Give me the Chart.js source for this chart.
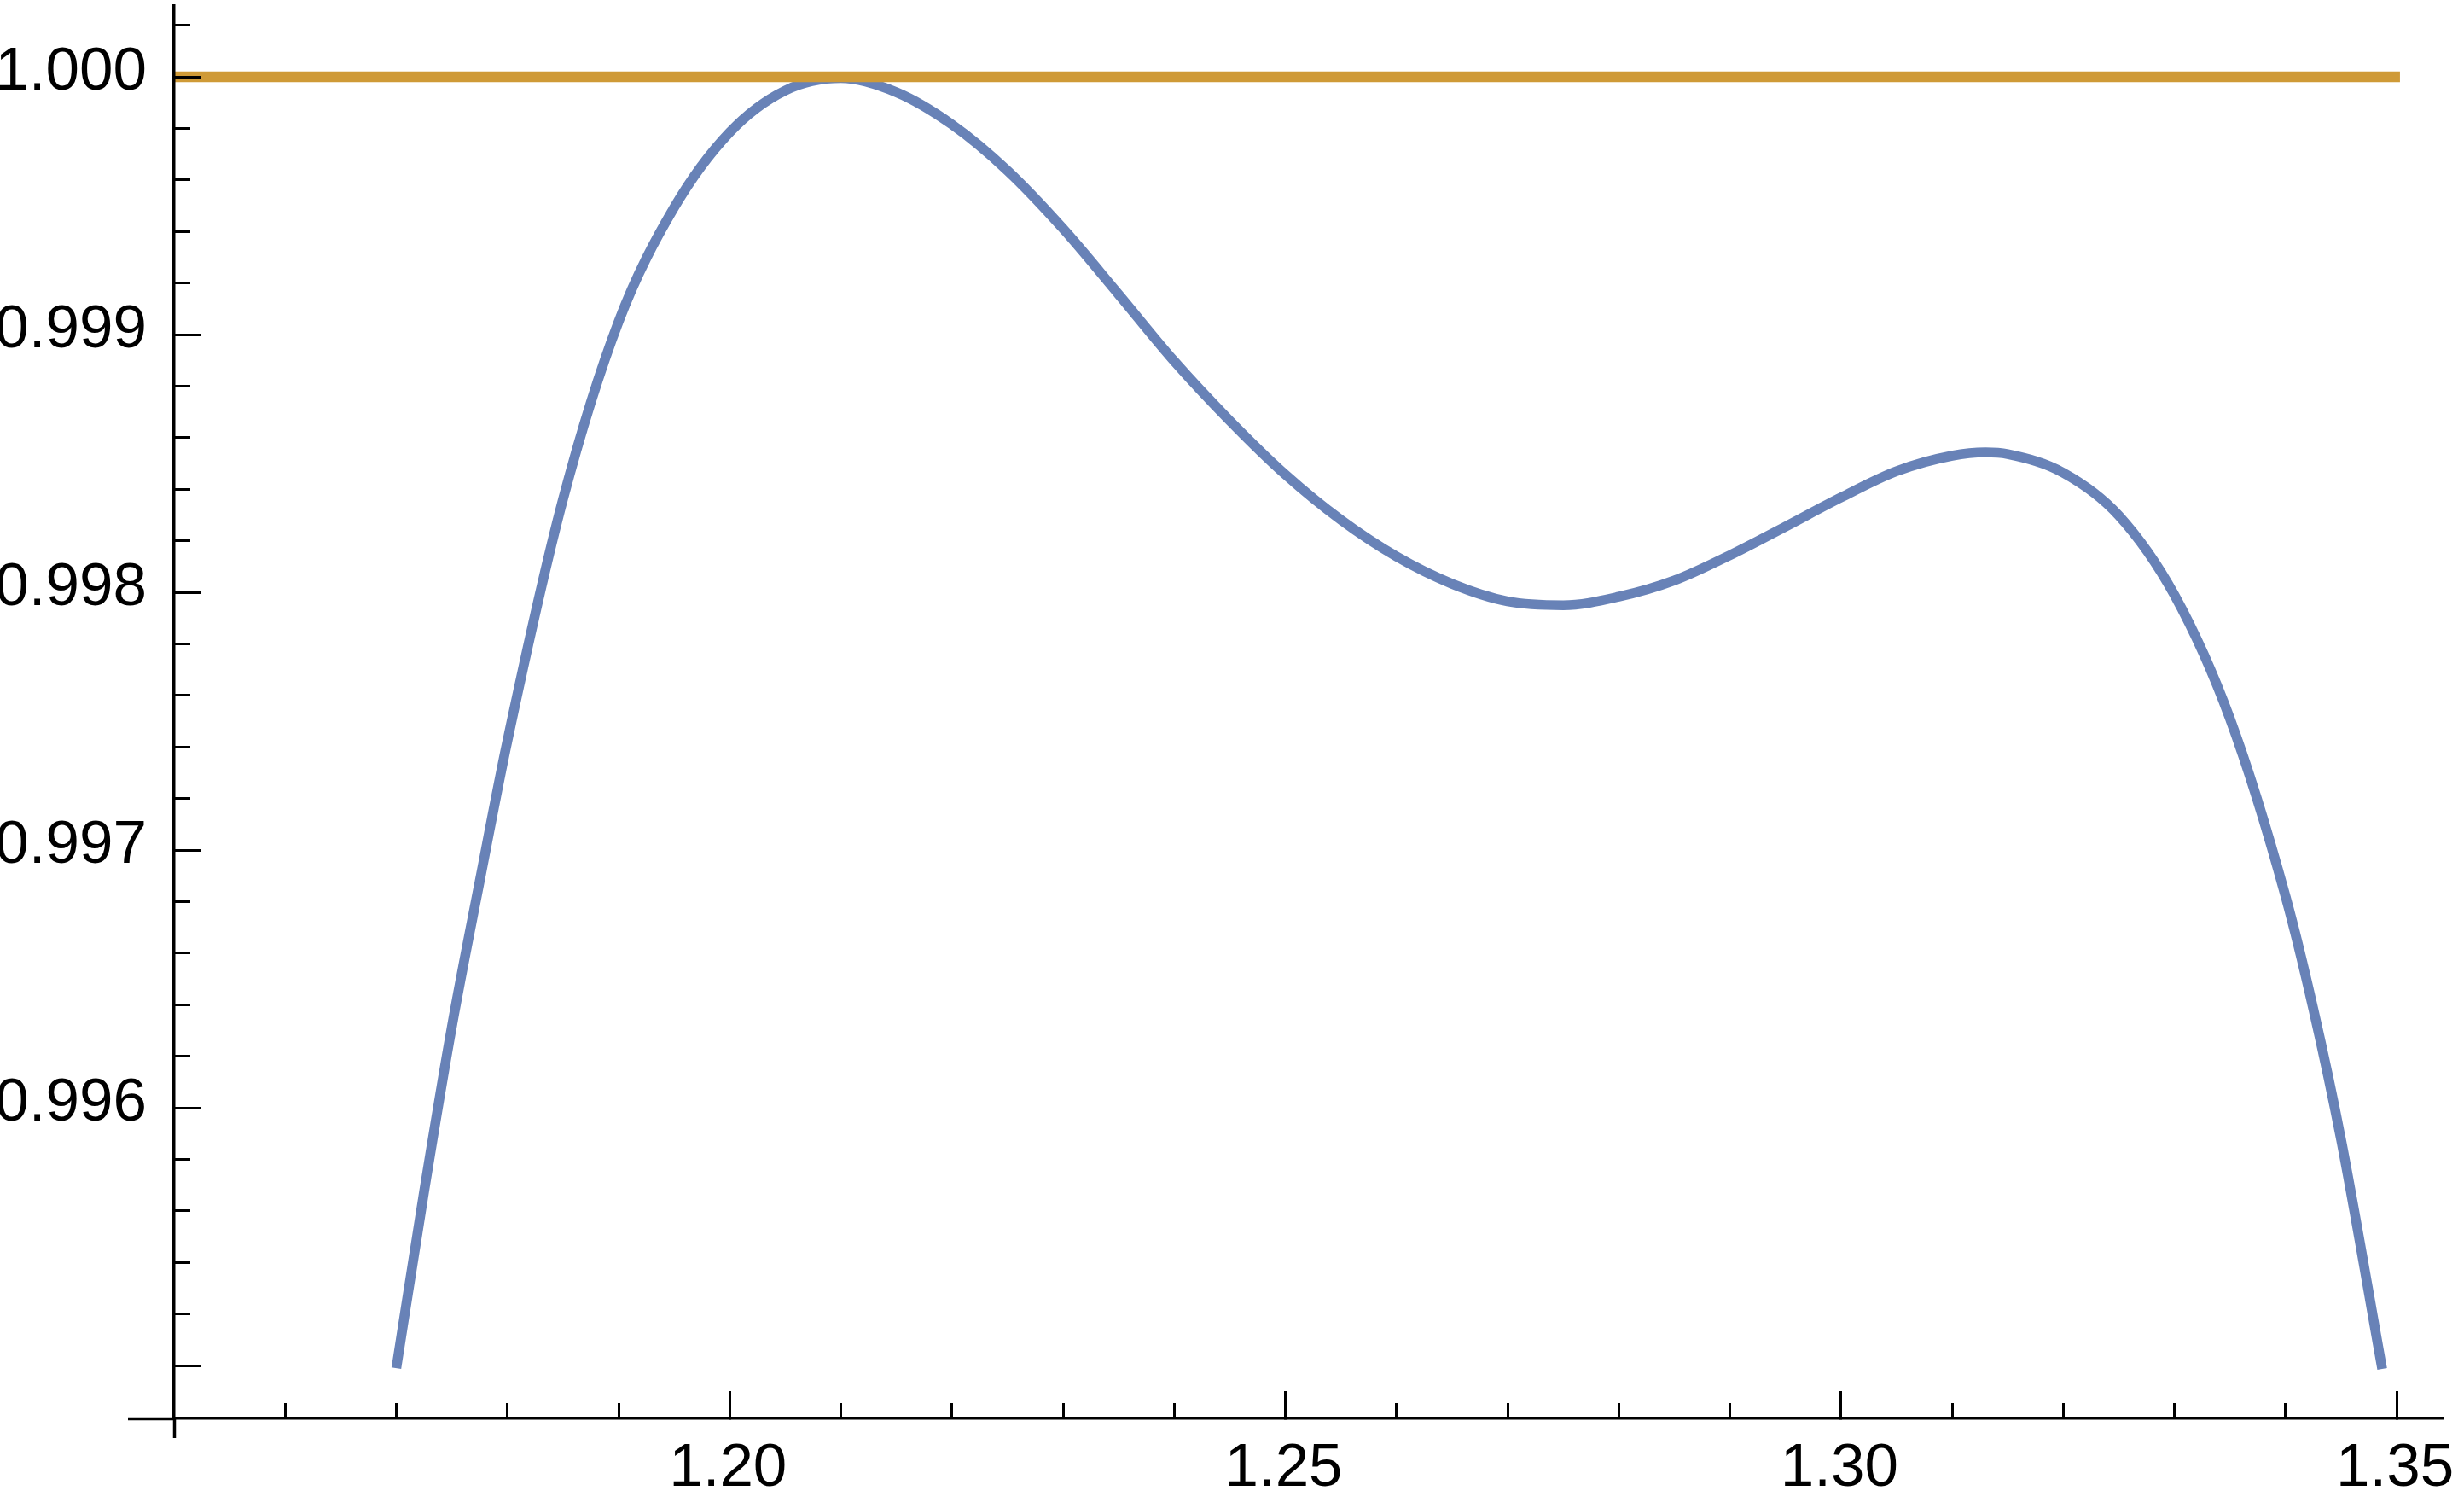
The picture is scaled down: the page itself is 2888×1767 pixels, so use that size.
<!DOCTYPE html>
<html>
<head>
<meta charset="utf-8">
<title>Curve vs 1</title>
<script src="https://cdn.jsdelivr.net/npm/chart.js@4.4.0/dist/chart.umd.min.js"></script>
<style>
  html, body { margin: 0; padding: 0; background: #fff; }
  #wrap { width: 2888px; height: 1767px; }
</style>
</head>
<body>
<div id="wrap"><canvas id="plot" width="2888" height="1767"></canvas></div>
<script>
// ---- data ----
const curveX = [1.1700, 1.1725, 1.1750, 1.1775, 1.1800, 1.1850, 1.1900, 1.1950, 1.2000, 1.2050,
                1.2100, 1.2150, 1.2200, 1.2250, 1.2300, 1.2350, 1.2400, 1.2450, 1.2500, 1.2550,
                1.2600, 1.2650, 1.2700, 1.2750, 1.2800, 1.2850, 1.2900, 1.2950, 1.3000, 1.3050,
                1.3100, 1.3130, 1.3150, 1.3200, 1.3250, 1.3300, 1.3350, 1.3400, 1.3425, 1.3450,
                1.3487];
const curveY = [0.994990, 0.995675, 0.996315, 0.996878, 0.997424, 0.998361, 0.999050, 0.999493, 0.999785, 0.999947,
                0.999995, 0.999940, 0.999815, 0.999636, 0.999411, 0.999156, 0.998897, 0.998666, 0.998457, 0.998281,
                0.998139, 0.998033, 0.997965, 0.997950, 0.997983, 0.998046, 0.998144, 0.998255, 0.998368, 0.998470,
                0.998530, 0.998543, 0.998536, 0.998464, 0.998298, 0.997990, 0.997510, 0.996821, 0.996384, 0.995877,
                0.994987];

// the flat reference line at 1
const levelX = [1.1495, 1.3503];
const levelY = [1.0, 1.0];

// ticks
const xMajorTicks = [1.20, 1.25, 1.30, 1.35];
const xTickLabels = ['1.20', '1.25', '1.30', '1.35'];
const xMinorTicks = [1.16, 1.17, 1.18, 1.19, 1.21, 1.22, 1.23, 1.24, 1.26, 1.27, 1.28, 1.29,
                     1.31, 1.32, 1.33, 1.34];
const yMajorTicks = [0.995, 0.996, 0.997, 0.998, 0.999, 1.000];
const yTickLabels = ['', '0.996', '0.997', '0.998', '0.999', '1.000'];
const yMinorTicks = [0.9952, 0.9954, 0.9956, 0.9958, 0.9962, 0.9964, 0.9966, 0.9968,
                     0.9972, 0.9974, 0.9976, 0.9978, 0.9982, 0.9984, 0.9986, 0.9988,
                     0.9992, 0.9994, 0.9996, 0.9998, 1.0002];

// axis ranges (axes cross at x = 1.15, y = xAxisAt)
const xRange = [1.15, 1.35422];
const yRange = [0.994795, 1.000275];
const yAxisAt = 1.15;
const xAxisAt = 0.994795;

const BLUE = '#6882b7';
const ORANGE = '#cf9a37';

Chart.defaults.font.family = "'Liberation Sans', Arial, sans-serif";
Chart.defaults.font.size = 71;
Chart.defaults.color = '#000';

const setTicks = list => scale => { scale.ticks = list.map(v => ({ value: v })); };

// helper for the extra scales that only carry tick marks
function markScale(axis, position, list, len, width) {
  return {
    type: 'linear', axis, position, weight: 0,
    min: axis === 'x' ? xRange[0] : yRange[0],
    max: axis === 'x' ? xRange[1] : yRange[1],
    afterBuildTicks: setTicks(list),
    afterFit: s => { if (axis === 'x') s.height = 0; else s.width = 0; },
    ticks: { display: false },
    border: { display: false },
    grid: { drawOnChartArea: false, drawTicks: true, tickLength: len, tickWidth: width, tickColor: '#000', z: 1 }
  };
}

const ctx = document.getElementById('plot');
new Chart(ctx, {
  type: 'scatter',
  data: {
    datasets: [
      {
        label: 'level',
        data: levelX.map((x, i) => ({ x, y: levelY[i] })),
        showLine: true, borderColor: ORANGE, borderWidth: 12.5,
        pointRadius: 0, order: 0
      },
      {
        label: 'curve',
        data: curveX.map((x, i) => ({ x, y: curveY[i] })),
        showLine: true, borderColor: BLUE, borderWidth: 11.5,
        cubicInterpolationMode: 'monotone',
        pointRadius: 0, order: 1
      }
    ]
  },
  options: {
    responsive: false,
    animation: false,
    layout: { padding: { left: 0, top: 7, right: 24, bottom: 0 } },
    plugins: { legend: { display: false }, tooltip: { enabled: false } },
    scales: {
      x: {
        type: 'linear', position: 'bottom', weight: 1,
        min: xRange[0], max: xRange[1],
        afterBuildTicks: setTicks(xMajorTicks),
        afterFit: s => { s.height = 105; s.paddingLeft = 0; s.paddingRight = 0; },
        ticks: { autoSkip: false, maxRotation: 0, padding: 49, labelOffset: -2,
                 callback: (v, i) => xTickLabels[i] },
        border: { display: true, color: '#000', width: 3.5, z: 1 },
        grid: { drawOnChartArea: false, drawTicks: true, tickLength: -32, tickWidth: 3, tickColor: '#000', z: 1 }
      },
      y: {
        type: 'linear', position: 'left', weight: 1,
        min: yRange[0], max: yRange[1],
        afterBuildTicks: setTicks(yMajorTicks),
        afterFit: s => { s.width = 204; s.paddingTop = 0; s.paddingBottom = 0; },
        ticks: { autoSkip: false, padding: 64, labelOffset: -5,
                 callback: (v, i) => yTickLabels[i] },
        border: { display: true, color: '#000', width: 3.5, z: 1 },
        grid: { drawOnChartArea: false, drawTicks: true, tickLength: -32, tickWidth: 3, tickColor: '#000', z: 1 }
      },
      xMinor: markScale('x', 'bottom', xMinorTicks, -18, 3),
      yMinor: markScale('y', 'left', yMinorTicks, -19, 3),
      // short stubs where the axes run past their crossing point
      xStub: markScale('x', 'bottom', [yAxisAt], 23, 3.5),
      yStub: markScale('y', 'left', [xAxisAt], 54, 3.5)
    }
  }
});
</script>
</body>
</html>
